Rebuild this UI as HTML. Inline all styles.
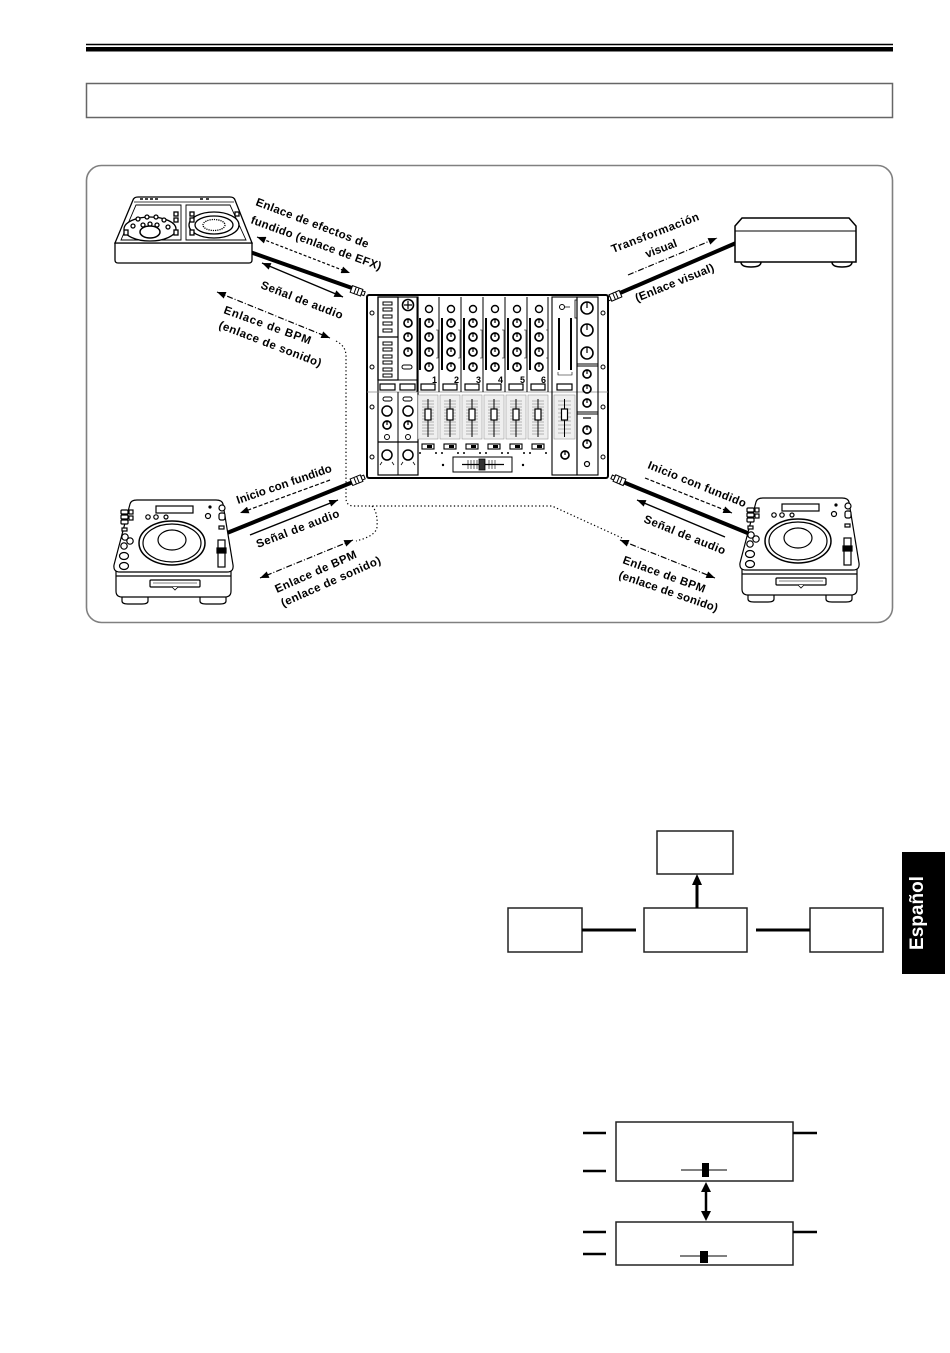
<!DOCTYPE html>
<html><head><meta charset="utf-8"><style>
html,body{margin:0;padding:0;background:#fff;}
svg{display:block;}
text{font-family:"Liberation Sans",Arial,sans-serif;font-weight:bold;}
</style></head><body>
<svg width="950" height="1353" viewBox="0 0 950 1353" xmlns="http://www.w3.org/2000/svg">
<defs>
<marker id="ah" viewBox="0 0 10 8" refX="10" refY="4" markerWidth="9" markerHeight="7" markerUnits="userSpaceOnUse" orient="auto-start-reverse"><path d="M0,0 L10,4 L0,8 z" fill="#000" stroke="none"/></marker>
<g id="knob"><circle r="4" fill="#fff" stroke="#000" stroke-width="1.7"/><line x1="0" y1="0" x2="0" y2="-4" stroke="#000" stroke-width="1.2"/></g>
<g id="strip" fill="none" stroke="#000">
 <circle cx="12" cy="309" r="3.5" stroke-width="1.4" fill="#fff"/>
 <use href="#knob" x="12" y="323"/>
 <use href="#knob" x="12" y="337"/>
 <use href="#knob" x="12" y="352"/>
 <use href="#knob" x="12" y="367"/>
 <rect x="2" y="318" width="2" height="52" fill="#000" stroke="none"/>
 <path d="M19,330 h2 v28 h-2" stroke-width="0.6"/>
 <rect x="4" y="384" width="14" height="6" stroke-width="1.2" fill="#fff"/>
 <rect x="1" y="395" width="20" height="44" fill="#efefef" stroke="#999" stroke-width="0.6"/>
 <path d="M5,401h12M5,404h12M5,407h12M5,410h12M5,413h12M5,416h12M5,419h12M5,422h12M5,425h12M5,428h12M5,431h12M5,434h12" stroke="#777" stroke-width="0.5"/>
 <line x1="11" y1="399" x2="11" y2="437" stroke-width="1"/>
 <rect x="8" y="409" width="6" height="11" fill="#fff" stroke-width="1.2"/>
 <rect x="5" y="444" width="12" height="5" fill="#fff" stroke-width="1.1"/>
 <rect x="10" y="445" width="5" height="3" fill="#000" stroke="none"/>
 <circle cx="3" cy="453" r="1" fill="#000" stroke="none"/>
 <circle cx="19" cy="453" r="1" fill="#000" stroke="none"/>
</g>
<g id="cdj" fill="#fff" stroke="#000" stroke-width="1.2">
 <path d="M122,594 v7 q0,3 6,3 h14 q6,0 6,-3 v-7z"/>
 <path d="M200,594 v7 q0,3 6,3 h14 q6,0 6,-3 v-7z"/>
 <path d="M116,570 L116,591 Q116,597 122,597 L225,597 Q231,597 231,591 L231,570 Z"/>
 <path d="M130,504 Q131,500 137,500 L216,500 Q222,500 223,504 L233,565 Q234,572 227,572 L120,572 Q113,572 114,565 Z"/>
 <line x1="116" y1="576" x2="231" y2="576"/>
 <rect x="150" y="580" width="50" height="7" rx="1"/>
 <line x1="153" y1="583" x2="197" y2="583" stroke-width="0.6"/>
 <path d="M172,587 l3,3 l3,-3" stroke-width="0.8"/>
 <rect x="156" y="506" width="37" height="7"/>
 <circle cx="148" cy="517" r="2.2"/><circle cx="156" cy="517" r="2.2"/><circle cx="166" cy="517" r="2"/>
 <circle cx="208" cy="516" r="2.5"/><circle cx="210" cy="507" r="1" fill="#000"/>
 <rect x="121" y="510" width="7" height="4" rx="1"/><rect x="121" y="515" width="7" height="4" rx="1"/><rect x="121" y="520" width="7" height="4" rx="1"/>
 <rect x="129" y="510" width="4" height="4"/><rect x="129" y="516" width="4" height="4"/>
 <rect x="122" y="528" width="5" height="3"/>
 <circle cx="125" cy="537" r="3.2"/><circle cx="130" cy="541" r="3.2"/><circle cx="124" cy="546" r="3.2"/>
 <ellipse cx="124" cy="556" rx="4.5" ry="3.5"/><ellipse cx="124" cy="566" rx="4.5" ry="3.5"/>
 <ellipse cx="172" cy="543" rx="33" ry="22" stroke-width="1.5"/>
 <ellipse cx="172" cy="543" rx="29" ry="19"/>
 <ellipse cx="172" cy="540" rx="14" ry="10"/>
 <circle cx="222" cy="508" r="3"/><rect x="219" y="513" width="6" height="7" rx="2"/>
 <rect x="219" y="526" width="5" height="3"/>
 <rect x="218" y="540" width="7" height="27"/>
 <rect x="217" y="548" width="9" height="5" fill="#000"/>
</g>
</defs>

<!-- Header -->
<line x1="86" y1="44.5" x2="893" y2="44.5" stroke="#000" stroke-width="1.5"/>
<rect x="86" y="47" width="807" height="4.5" fill="#000"/>
<rect x="86.5" y="83.5" width="806" height="34" fill="none" stroke="#666" stroke-width="1.5"/>

<!-- Main frame -->
<rect x="86.5" y="165.5" width="806" height="457" rx="15" fill="none" stroke="#808080" stroke-width="1.6"/>

<!-- Dotted BPM paths -->
<g fill="none" stroke="#000" stroke-width="1.2" stroke-dasharray="1.3,2.4">
 <path d="M336,341 Q346,346 346,356 L346,498 Q346,506 354,506 L552,506 L622,538"/>
 <path d="M372,506 Q378,512 377,527 Q376,536 356,541"/>
</g>

<!-- Cables -->
<g stroke="#000" stroke-width="4" stroke-linecap="butt">
 <line x1="250" y1="252" x2="352" y2="288"/>
 <line x1="620" y1="293" x2="736" y2="243"/>
 <line x1="227" y1="533" x2="353" y2="482"/>
 <line x1="623" y1="482" x2="750" y2="534"/>
</g>

<!-- connectors -->
<g fill="#fff" stroke="#000" stroke-width="1">
 <g transform="translate(357,291) rotate(20)"><rect x="-6" y="-3.5" width="11" height="7"/><line x1="-2" y1="-3.5" x2="-2" y2="3.5"/><line x1="1" y1="-3.5" x2="1" y2="3.5"/><rect x="5" y="-2" width="3" height="4"/></g>
 <g transform="translate(615,296) rotate(-23)"><rect x="-5" y="-3.5" width="11" height="7"/><line x1="-1" y1="-3.5" x2="-1" y2="3.5"/><line x1="2" y1="-3.5" x2="2" y2="3.5"/><rect x="-8" y="-2" width="3" height="4"/></g>
 <g transform="translate(357,480) rotate(-22)"><rect x="-6" y="-3.5" width="11" height="7"/><line x1="-2" y1="-3.5" x2="-2" y2="3.5"/><line x1="1" y1="-3.5" x2="1" y2="3.5"/><rect x="5" y="-2" width="3" height="4"/></g>
 <g transform="translate(619,480) rotate(23)"><rect x="-5" y="-3.5" width="11" height="7"/><line x1="-1" y1="-3.5" x2="-1" y2="3.5"/><line x1="2" y1="-3.5" x2="2" y2="3.5"/><rect x="-8" y="-2" width="3" height="4"/></g>
</g>

<!-- Arrows -->
<g fill="none" stroke="#000" stroke-width="1.2">
 <line x1="257" y1="237" x2="350" y2="273" stroke-dasharray="3,2" marker-start="url(#ah)" marker-end="url(#ah)"/>
 <line x1="262" y1="263" x2="343" y2="297" stroke-width="1.4" marker-start="url(#ah)" marker-end="url(#ah)"/>
 <line x1="217" y1="292" x2="330" y2="338" stroke-dasharray="6,2,1,2" marker-start="url(#ah)" marker-end="url(#ah)"/>
 <line x1="628" y1="275" x2="717" y2="238" stroke-dasharray="6,2,1,2" marker-end="url(#ah)"/>
 <line x1="330" y1="480" x2="240" y2="513" stroke-dasharray="4,2" marker-end="url(#ah)"/>
 <line x1="250" y1="535" x2="338" y2="500" stroke-width="1.4" marker-end="url(#ah)"/>
 <line x1="353" y1="540" x2="260" y2="578" stroke-dasharray="6,2,1,2" marker-start="url(#ah)" marker-end="url(#ah)"/>
 <line x1="645" y1="478" x2="732" y2="513" stroke-dasharray="4,2" marker-end="url(#ah)"/>
 <line x1="725" y1="537" x2="637" y2="500" stroke-width="1.4" marker-end="url(#ah)"/>
 <line x1="620" y1="540" x2="715" y2="578" stroke-dasharray="6,2,1,2" marker-start="url(#ah)" marker-end="url(#ah)"/>
</g>

<!-- Labels -->
<g font-size="11.5" fill="#000">
 <text transform="translate(255,205) rotate(21)" textLength="120" lengthAdjust="spacing">Enlace de efectos de</text>
 <text transform="translate(250,223) rotate(20)" textLength="138" lengthAdjust="spacing">fundido (enlace de EFX)</text>
 <text transform="translate(260,288) rotate(21)" textLength="87" lengthAdjust="spacing">Señal de audio</text>
 <text transform="translate(223,313) rotate(20)" textLength="92" lengthAdjust="spacing">Enlace de BPM</text>
 <text transform="translate(218,328) rotate(21)" textLength="109" lengthAdjust="spacing">(enlace de sonido)</text>
 <text transform="translate(613,253) rotate(-21)" textLength="93" lengthAdjust="spacing">Transformación</text>
 <text transform="translate(647,258) rotate(-21)" textLength="33" lengthAdjust="spacing">visual</text>
 <text transform="translate(637,302) rotate(-22)" textLength="84" lengthAdjust="spacing">(Enlace visual)</text>
 <text transform="translate(238,504) rotate(-19)" textLength="100" lengthAdjust="spacing">Inicio con fundido</text>
 <text transform="translate(258,548) rotate(-21)" textLength="88" lengthAdjust="spacing">Señal de audio</text>
 <text transform="translate(277,593) rotate(-24)" textLength="88" lengthAdjust="spacing">Enlace de BPM</text>
 <text transform="translate(283,607) rotate(-24)" textLength="108" lengthAdjust="spacing">(enlace de sonido)</text>
 <text transform="translate(647,468) rotate(22)" textLength="105" lengthAdjust="spacing">Inicio con fundido</text>
 <text transform="translate(643,522) rotate(22)" textLength="87" lengthAdjust="spacing">Señal de audio</text>
 <text transform="translate(622,563) rotate(20)" textLength="87" lengthAdjust="spacing">Enlace de BPM</text>
 <text transform="translate(618,578) rotate(19)" textLength="104" lengthAdjust="spacing">(enlace de sonido)</text>
</g>

<!-- EFX device -->
<g fill="#fff" stroke="#000" stroke-width="1.3">
 <path d="M115,243 L252,243 L252,260 Q252,263 249,263 L118,263 Q115,263 115,260 Z"/>
 <path d="M115,243 L133,200 Q134,197 138,197 L230,197 Q234,197 235,200 L252,243 Z"/>
 <path d="M121,240 L136,205 L181,205 L181,240 Z" stroke-width="0.9"/>
 <path d="M186,240 L186,205 L230,205 L246,240 Z" stroke-width="0.9"/>
 <line x1="134" y1="202" x2="234" y2="202" stroke-width="0.8"/>
 <path d="M140,199h3M145,199h3M150,199h3M155,199h3M200,199h3M206,199h3" stroke-width="1.5"/>
 <ellipse cx="150" cy="229" rx="26" ry="12"/>
 <ellipse cx="150" cy="232" rx="10" ry="6" stroke-width="1.5"/>
 <circle cx="133" cy="226" r="2"/><circle cx="138" cy="219" r="2"/><circle cx="147" cy="217" r="2"/><circle cx="156" cy="217" r="2"/><circle cx="164" cy="220" r="2"/><circle cx="168" cy="227" r="2"/>
 <circle cx="143" cy="225" r="2"/><circle cx="150" cy="224" r="2"/><circle cx="157" cy="225" r="2"/>
 <rect x="124" y="230" width="4" height="5"/><rect x="174" y="230" width="4" height="5"/>
 <rect x="174" y="212" width="4" height="4"/><rect x="174" y="218" width="4" height="4"/>
 <ellipse cx="214" cy="225" rx="25" ry="13"/>
 <ellipse cx="214" cy="225" rx="19" ry="9"/>
 <ellipse cx="214" cy="225" rx="11" ry="5.5" stroke-dasharray="1.2,1"/>
 <rect x="190" y="212" width="4" height="4"/><rect x="190" y="218" width="4" height="4"/><rect x="190" y="230" width="4" height="5"/>
 <rect x="235" y="212" width="4" height="4"/>
</g>

<!-- Video device -->
<g fill="#fff" stroke="#000" stroke-width="1.5">
 <path d="M741,262 Q741,267 751,267 Q761,267 761,262"/>
 <path d="M832,262 Q832,267 842,267 Q852,267 852,262"/>
 <path d="M735,226 L742,218 L849,218 L856,226 L856,262 L735,262 Z"/>
 <line x1="735" y1="231" x2="856" y2="231" stroke-width="1"/>
</g>

<!-- CDJs -->
<use href="#cdj"/>
<use href="#cdj" transform="translate(626,-2)"/>

<!-- Mixer -->
<g stroke="#000" fill="none">
 <rect x="367" y="295" width="241" height="183" rx="2" stroke-width="2" fill="#fff"/>
 <g stroke-width="1" fill="#fff">
  <circle cx="372" cy="313" r="2"/><circle cx="372" cy="367" r="2"/><circle cx="372" cy="407" r="2"/><circle cx="372" cy="457" r="2"/>
  <circle cx="603" cy="313" r="2"/><circle cx="603" cy="367" r="2"/><circle cx="603" cy="407" r="2"/><circle cx="603" cy="457" r="2"/>
 </g>
 <rect x="378" y="297" width="40" height="178" stroke-width="1.2"/>
 <rect x="378" y="297" width="20" height="83" stroke-width="1.2"/>
 <line x1="378" y1="337" x2="398" y2="337" stroke-width="1.2"/>
 <g stroke-width="1">
  <rect x="383" y="302" width="9" height="3"/><rect x="383" y="308" width="9" height="3"/><rect x="383" y="315" width="9" height="3"/><rect x="383" y="322" width="9" height="3"/><rect x="383" y="329" width="9" height="3"/>
  <rect x="383" y="342" width="9" height="3"/><rect x="383" y="348" width="9" height="3"/><rect x="383" y="355" width="9" height="3"/><rect x="383" y="361" width="9" height="3"/><rect x="383" y="368" width="9" height="3"/><rect x="383" y="374" width="9" height="3"/>
 </g>
 <circle cx="408" cy="305" r="5.5" stroke-width="1.6"/>
 <path d="M404,305h8M408,301v8" stroke-width="1.2"/>
 <use href="#knob" x="408" y="323"/>
 <use href="#knob" x="408" y="337"/>
 <use href="#knob" x="408" y="352"/>
 <rect x="402" y="365" width="10" height="4" rx="2" stroke-width="1"/>
 <line x1="378" y1="380" x2="418" y2="380" stroke-width="1"/>
 <line x1="367" y1="392" x2="608" y2="392" stroke-width="0.8" stroke="#888"/>
 <rect x="380" y="384" width="15" height="6" stroke-width="1.2"/>
 <rect x="400" y="384" width="15" height="6" stroke-width="1.2"/>
 <line x1="398" y1="392" x2="398" y2="442" stroke-width="1"/>
 <line x1="378" y1="442" x2="418" y2="442" stroke-width="1.2"/>
 <line x1="398" y1="442" x2="398" y2="475" stroke-width="1"/>
 <rect x="383" y="397" width="9" height="4" rx="2" stroke-width="1"/>
 <rect x="403" y="397" width="9" height="4" rx="2" stroke-width="1"/>
 <circle cx="387" cy="411" r="5" stroke-width="1.5"/>
 <circle cx="408" cy="411" r="5" stroke-width="1.5"/>
 <use href="#knob" x="387" y="425"/>
 <use href="#knob" x="408" y="425"/>
 <circle cx="387" cy="437" r="2.5" stroke-width="1"/>
 <circle cx="408" cy="437" r="2.5" stroke-width="1"/>
 <circle cx="387" cy="455" r="5" stroke-width="1.5"/>
 <circle cx="408" cy="455" r="5" stroke-width="1.5"/>
 <path d="M382,462 l-2,3 M392,462 l2,3 M403,462 l-2,3 M413,462 l2,3" stroke-width="0.8"/>
 <path d="M417,297V392M439,297V392M461,297V392M483,297V392M505,297V392M527,297V392M548,297V392" stroke-width="1"/>
 <use href="#strip" x="417"/>
 <use href="#strip" x="439"/>
 <use href="#strip" x="461"/>
 <use href="#strip" x="483"/>
 <use href="#strip" x="505"/>
 <use href="#strip" x="527"/>
 <rect x="453" y="457" width="59" height="15" stroke-width="1" fill="#fff"/>
 <path d="M462,464.5h42" stroke-width="1.2"/>
 <path d="M468,460v9M471,460v9M474,460v9M477,460v9M489,460v9M492,460v9M495,460v9" stroke-width="0.6"/>
 <rect x="479" y="459" width="6" height="11" fill="#333" stroke-width="0.8"/>
 <circle cx="443" cy="465" r="1.2" fill="#000" stroke="none"/>
 <circle cx="523" cy="465" r="1.2" fill="#000" stroke="none"/>
 <rect x="552" y="297" width="25" height="178" stroke-width="1.1"/>
 <rect x="558" y="318" width="2" height="52" fill="#000" stroke="none"/>
 <rect x="570" y="318" width="2" height="52" fill="#000" stroke="none"/>
 <path d="M558,372v3h14v-3" stroke-width="0.6"/>
 <rect x="557" y="384" width="15" height="6" stroke-width="1.2"/>
 <rect x="554" y="395" width="21" height="44" fill="#efefef" stroke="#999" stroke-width="0.6"/>
 <path d="M558,401h13M558,405h13M558,409h13M558,413h13M558,417h13M558,421h13M558,425h13M558,429h13M558,433h13" stroke="#777" stroke-width="0.5"/>
 <line x1="564.5" y1="399" x2="564.5" y2="437" stroke-width="1"/>
 <rect x="561.5" y="409" width="6" height="11" fill="#fff" stroke-width="1.2"/>
 <use href="#knob" x="565" y="455"/>
 <rect x="577" y="297" width="21" height="178" stroke-width="1.1"/>
 <circle cx="562" cy="307" r="2.5" stroke-width="1"/>
 <path d="M565,307h5M577,300h-2v18h2" stroke-width="0.8"/>
 <circle cx="587" cy="308" r="6" stroke-width="1.6"/><line x1="587" y1="302" x2="587" y2="308" stroke-width="1.2"/>
 <circle cx="587" cy="330" r="6" stroke-width="1.6"/><line x1="587" y1="324" x2="587" y2="330" stroke-width="1.2"/>
 <circle cx="587" cy="353" r="6" stroke-width="1.6"/><line x1="587" y1="347" x2="587" y2="353" stroke-width="1.2"/>
 <path d="M577,364h21M577,366h21M577,412h21M577,414h21" stroke-width="0.9"/>
 <use href="#knob" x="587" y="374"/>
 <use href="#knob" x="587" y="389"/>
 <use href="#knob" x="587" y="403"/>
 <path d="M583,418h8" stroke-width="1.2"/>
 <use href="#knob" x="587" y="430"/>
 <use href="#knob" x="587" y="444"/>
 <circle cx="587" cy="464" r="2.5" stroke-width="1.2"/>
</g>
<g font-size="9" fill="#000">
 <text x="432" y="383">1</text><text x="454" y="383">2</text><text x="476" y="383">3</text><text x="498" y="383">4</text><text x="520" y="383">5</text><text x="541" y="383">6</text>
</g>

<!-- Block diagram -->
<g fill="#fff" stroke="#222" stroke-width="1.5">
 <rect x="657" y="831" width="76" height="43"/>
 <rect x="508" y="908" width="74" height="44"/>
 <rect x="644" y="908" width="103" height="44"/>
 <rect x="810" y="908" width="73" height="44"/>
</g>
<g stroke="#000" stroke-width="3">
 <line x1="582" y1="930" x2="636" y2="930"/>
 <line x1="756" y1="930" x2="810" y2="930"/>
 <line x1="697" y1="908" x2="697" y2="882"/>
</g>
<polygon points="692,885 702,885 697,874" fill="#000"/>

<!-- Español tab -->
<rect x="902" y="852" width="43" height="122" fill="#000"/>
<text transform="translate(923,913) rotate(-90)" text-anchor="middle" font-size="19" fill="#fff">Español</text>

<!-- Bottom diagram -->
<g fill="#fff" stroke="#222" stroke-width="1.5">
 <rect x="616" y="1122" width="177" height="59"/>
 <rect x="616" y="1222" width="177" height="43"/>
</g>
<g stroke="#000" stroke-width="2.5">
 <line x1="583" y1="1133" x2="606" y2="1133"/>
 <line x1="583" y1="1171" x2="606" y2="1171"/>
 <line x1="793" y1="1133" x2="817" y2="1133"/>
 <line x1="583" y1="1232" x2="606" y2="1232"/>
 <line x1="583" y1="1254" x2="606" y2="1254"/>
 <line x1="793" y1="1232" x2="817" y2="1232"/>
 <line x1="706" y1="1190" x2="706" y2="1213"/>
</g>
<g stroke="#000" stroke-width="1">
 <line x1="681" y1="1170" x2="727" y2="1170"/>
 <line x1="680" y1="1256" x2="727" y2="1256"/>
</g>
<rect x="702" y="1163" width="7" height="14" fill="#000"/>
<rect x="700" y="1251" width="8" height="12" fill="#000"/>
<polygon points="701,1192 711,1192 706,1182" fill="#000"/>
<polygon points="701,1211 711,1211 706,1221" fill="#000"/>
</svg>
</body></html>
